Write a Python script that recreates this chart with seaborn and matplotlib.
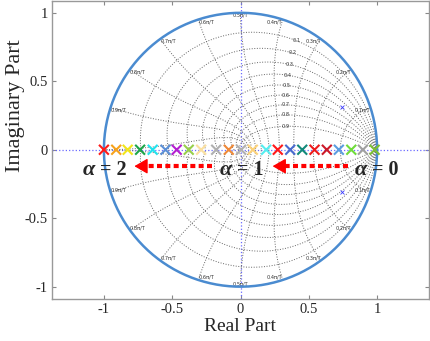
import numpy as np
import pandas as pd
import seaborn as sns
import matplotlib
matplotlib.use('Agg')
import matplotlib.pyplot as plt

# closed-loop poles on the real axis as alpha goes 2 -> 0
pole_re = [-1.00, -0.91, -0.826, -0.735, -0.643, -0.549, -0.467, -0.379, -0.288,
           -0.178, -0.086, 0.005, 0.090, 0.188, 0.273, 0.364, 0.452, 0.542,
           0.632, 0.720, 0.811, 0.896, 0.982]
pole_im = [0.0] * len(pole_re)
pole_colors = ['#ff1a1a', '#f7a21b', '#f2e61a', '#1fa64a', '#22e3ee', '#5b8fd6',
               '#b41fd0', '#97cf4a', '#fbe0a0', '#b0b0b0', '#ef8a3a', '#b0b0b0',
               '#fcd27a', '#55eef0', '#ff1a1a', '#4a6bcf', '#138a7a', '#ee1a1a',
               '#cc1a2a', '#5b9de0', '#6fdc3a', '#a0a0a0', '#7cbf34']

# small open-loop markers
zero_re = [0.74, 0.74]
zero_im = [0.31, -0.31]

# zgrid values
zeta_vals = [0.1, 0.2, 0.3, 0.4, 0.5, 0.6, 0.7, 0.8, 0.9]
wn_vals = [0.1, 0.2, 0.3, 0.4, 0.5, 0.6, 0.7, 0.8, 0.9, 1.0]  # x pi/T

# alpha annotations
alpha_text = ['2', '1', '0']
alpha_split = [-1.065, -0.06, 0.925]
arrow_from = [-0.205, 0.785]
arrow_to = [-0.777, 0.235]

ticks = [-1, -0.5, 0, 0.5, 1]
tick_labels = ['-1', '-0.5', '0', '0.5', '1']

sns.set_theme(style='ticks')
plt.rcParams['font.family'] = ['Liberation Serif', 'DejaVu Serif']
plt.rcParams['axes.unicode_minus'] = False

fig = plt.figure(figsize=(4.3, 3.41), dpi=100)
ax = fig.add_axes([52 / 430, 1 - 299 / 341, 377 / 430, 298.5 / 341])

# blue dotted axes through origin
ax.axhline(0, color='#6a6aff', ls=':', lw=0.9, zorder=1)
ax.axvline(0, color='#6a6aff', ls=':', lw=0.9, zorder=1)

# damping ratio curves
th = np.linspace(0, np.pi, 200)
for z in zeta_vals:
    m = np.tan(np.arcsin(z))
    zz = np.exp(th * (-m + 1j))
    ax.plot(zz.real, zz.imag, color='#666666', ls=':', lw=0.7, zorder=1)
    ax.plot(zz.real, -zz.imag, color='#666666', ls=':', lw=0.7, zorder=1)
    p = np.exp(0.35 * np.pi * (-z + 1j * np.sqrt(1 - z ** 2)))
    ax.text(p.real, p.imag, f'{z:.1f}', fontsize=3.6, family='DejaVu Sans',
            color='#333333', ha='center', va='center', zorder=2)

# natural frequency curves
zt = np.linspace(0, 1, 200)
for w in wn_vals:
    zz = np.exp(w * np.pi * (-zt + 1j * np.sqrt(1 - zt ** 2)))
    ax.plot(zz.real, zz.imag, color='#666666', ls=':', lw=0.7, zorder=1)
    ax.plot(zz.real, -zz.imag, color='#666666', ls=':', lw=0.7, zorder=1)
    if w < 1.0:
        c, s = np.cos(w * np.pi), np.sin(w * np.pi)
        ha = 'right' if c > 0.05 else ('left' if c < -0.05 else 'center')
        for sign, va in [(1, 'top'), (-1, 'bottom')]:
            ax.text(c, sign * s, f'{w:.1f}\u03c0/T', fontsize=3.6, family='DejaVu Sans',
                    color='#333333', ha=ha, va=va, zorder=2)

# unit circle
t = np.linspace(0, 2 * np.pi, 400)
ax.plot(np.cos(t), np.sin(t), color='#4a8bd0', lw=1.8, zorder=2)

# poles
df = pd.DataFrame({'re': pole_re, 'im': pole_im,
                   'k': [f'p{i}' for i in range(len(pole_re))]})
sns.scatterplot(data=df, x='re', y='im', hue='k', palette=pole_colors, marker='x',
                s=50, linewidth=1.5, legend=False, ax=ax, zorder=3)
ax.scatter(zero_re, zero_im, marker='x', s=8, color='#3a3aff', linewidths=0.6, zorder=3)

# alpha labels and arrows
y_txt = -0.182
y_arr = -0.12
for xs, lab in zip(alpha_split, alpha_text):
    ax.text(xs, y_txt, '\u03b1', fontsize=16, fontweight='bold', fontstyle='italic',
            ha='right', va='baseline', zorder=4)
    ax.text(xs + 0.035, y_txt, '= ' + lab, fontsize=14.5, fontweight='bold',
            ha='left', va='baseline', zorder=4)
for x0, x1 in zip(arrow_from, arrow_to):
    ax.plot([x0, x1 + 0.06], [y_arr, y_arr], color='#ff0000', lw=3.0,
            ls=(0, (1.2, 0.8)), solid_capstyle='butt', dash_capstyle='butt', zorder=4)
    ax.annotate('', xy=(x1, y_arr), xytext=(x1 + 0.075, y_arr),
                arrowprops=dict(arrowstyle='-|>,head_length=0.45,head_width=0.26',
                                color='#ff0000', lw=1, mutation_scale=18,
                                shrinkA=0, shrinkB=0), zorder=4)

ax.set_xlim(-1.38, 1.38)
ax.set_ylim(-1.09, 1.09)
ax.set_xticks(ticks)
ax.set_xticklabels(tick_labels)
ax.set_yticks(ticks)
ax.set_yticklabels(tick_labels)
ax.tick_params(direction='in', length=3, width=0.8, color='#888888', labelsize=10.5,
               top=True, right=True, pad=3)
for sp in ax.spines.values():
    sp.set_color('#999999')
    sp.set_linewidth(1.0)

ax.set_xlabel('Real Part', fontsize=14)
ax.set_ylabel('Imaginary Part', fontsize=16)
ax.xaxis.set_label_coords(0.5, -0.064)
ax.yaxis.set_label_coords(-0.072, 0.647)

fig.savefig('out.png', dpi=100)
